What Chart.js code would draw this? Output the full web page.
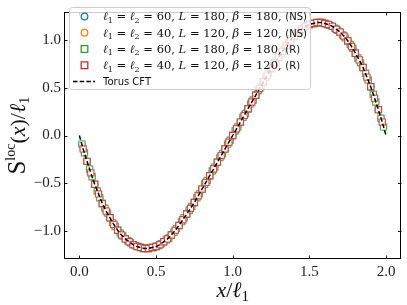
<!DOCTYPE html>
<html><head><meta charset="utf-8">
<script src="https://cdn.jsdelivr.net/npm/chart.js@4.4.0/dist/chart.umd.min.js"></script>
<style>html,body{margin:0;padding:0;background:#fff}</style>
</head><body>
<canvas id="c" width="407" height="305"></canvas>
<script>
const xTicks=[0,0.5,1,1.5,2];
const yTicks=[-1,-0.5,0,0.5,1];

const x60=[0.0167,0.0333,0.05,0.0667,0.0833,0.1,0.1167,0.1333,0.15,0.1667,0.1833,0.2,0.2167,0.2333,0.25,0.2667,0.2833,0.3,0.3167,0.3333,0.35,0.3667,0.3833,0.4,0.4167,0.4333,0.45,0.4667,0.4833,0.5,0.5167,0.5333,0.55,0.5667,0.5833,0.6,0.6167,0.6333,0.65,0.6667,0.6833,0.7,0.7167,0.7333,0.75,0.7667,0.7833,0.8,0.8167,0.8333,0.85,0.8667,0.8833,0.9,0.9167,0.9333,0.95,0.9667,0.9833,1.0,1.0167,1.0333,1.05,1.0667,1.0833,1.1,1.1167,1.1333,1.15,1.1667,1.1833,1.2,1.2167,1.2333,1.25,1.2667,1.2833,1.3,1.3167,1.3333,1.35,1.3667,1.3833,1.4,1.4167,1.4333,1.45,1.4667,1.4833,1.5,1.5167,1.5333,1.55,1.5667,1.5833,1.6,1.6167,1.6333,1.65,1.6667,1.6833,1.7,1.7167,1.7333,1.75,1.7667,1.7833,1.8,1.8167,1.8333,1.85,1.8667,1.8833,1.9,1.9167,1.9333,1.95,1.9667,1.9833];
const y60=[-0.09,-0.18,-0.27,-0.35,-0.43,-0.51,-0.58,-0.65,-0.71,-0.76,-0.81,-0.86,-0.91,-0.95,-0.99,-1.02,-1.05,-1.08,-1.10,-1.12,-1.14,-1.15,-1.16,-1.17,-1.18,-1.18,-1.18,-1.17,-1.17,-1.16,-1.15,-1.13,-1.11,-1.09,-1.07,-1.04,-1.01,-0.97,-0.94,-0.90,-0.86,-0.82,-0.78,-0.74,-0.70,-0.65,-0.61,-0.56,-0.51,-0.47,-0.42,-0.37,-0.33,-0.28,-0.23,-0.19,-0.14,-0.09,-0.05,0.00,0.05,0.09,0.14,0.19,0.23,0.28,0.33,0.37,0.42,0.47,0.51,0.56,0.61,0.65,0.70,0.74,0.78,0.82,0.86,0.90,0.94,0.97,1.01,1.04,1.07,1.09,1.11,1.13,1.15,1.16,1.17,1.17,1.18,1.18,1.18,1.17,1.16,1.15,1.14,1.12,1.10,1.08,1.05,1.02,0.99,0.95,0.91,0.86,0.81,0.76,0.71,0.65,0.58,0.51,0.43,0.35,0.27,0.18,0.09];

const x40=[0.025,0.05,0.075,0.1,0.125,0.15,0.175,0.2,0.225,0.25,0.275,0.3,0.325,0.35,0.375,0.4,0.425,0.45,0.475,0.5,0.525,0.55,0.575,0.6,0.625,0.65,0.675,0.7,0.725,0.75,0.775,0.8,0.825,0.85,0.875,0.9,0.925,0.95,0.975,1,1.025,1.05,1.075,1.1,1.125,1.15,1.175,1.2,1.225,1.25,1.275,1.3,1.325,1.35,1.375,1.4,1.425,1.45,1.475,1.5,1.525,1.55,1.575,1.6,1.625,1.65,1.675,1.7,1.725,1.75,1.775,1.8,1.825,1.85,1.875,1.9,1.925,1.95,1.975];
const y40=[-0.14,-0.27,-0.39,-0.51,-0.61,-0.71,-0.79,-0.86,-0.93,-0.99,-1.04,-1.08,-1.11,-1.14,-1.16,-1.17,-1.18,-1.18,-1.17,-1.16,-1.14,-1.11,-1.08,-1.04,-0.99,-0.94,-0.88,-0.82,-0.76,-0.70,-0.63,-0.56,-0.49,-0.42,-0.35,-0.28,-0.21,-0.14,-0.07,0.00,0.07,0.14,0.21,0.28,0.35,0.42,0.49,0.56,0.63,0.70,0.76,0.82,0.88,0.94,0.99,1.04,1.08,1.11,1.14,1.16,1.17,1.18,1.18,1.17,1.16,1.14,1.11,1.08,1.04,0.99,0.93,0.86,0.79,0.71,0.61,0.51,0.39,0.27,0.14];

const xCFT=[0,0.025,0.05,0.075,0.1,0.125,0.15,0.175,0.2,0.225,0.25,0.275,0.3,0.325,0.35,0.375,0.4,0.425,0.45,0.475,0.5,0.525,0.55,0.575,0.6,0.625,0.65,0.675,0.7,0.725,0.75,0.775,0.8,0.825,0.85,0.875,0.9,0.925,0.95,0.975,1,1.025,1.05,1.075,1.1,1.125,1.15,1.175,1.2,1.225,1.25,1.275,1.3,1.325,1.35,1.375,1.4,1.425,1.45,1.475,1.5,1.525,1.55,1.575,1.6,1.625,1.65,1.675,1.7,1.725,1.75,1.775,1.8,1.825,1.85,1.875,1.9,1.925,1.95,1.975,2];
const yCFT=[0.00,-0.14,-0.27,-0.39,-0.51,-0.61,-0.71,-0.79,-0.86,-0.93,-0.99,-1.04,-1.08,-1.11,-1.14,-1.16,-1.17,-1.18,-1.18,-1.17,-1.16,-1.14,-1.11,-1.08,-1.04,-0.99,-0.94,-0.88,-0.82,-0.76,-0.70,-0.63,-0.56,-0.49,-0.42,-0.35,-0.28,-0.21,-0.14,-0.07,0.00,0.07,0.14,0.21,0.28,0.35,0.42,0.49,0.56,0.63,0.70,0.76,0.82,0.88,0.94,0.99,1.04,1.08,1.11,1.14,1.16,1.17,1.18,1.18,1.17,1.16,1.14,1.11,1.08,1.04,0.99,0.93,0.86,0.79,0.71,0.61,0.51,0.39,0.27,0.14,0.00];

const ells=[60,40,60,40];
const Ls=[180,120,180,120];
const betas=[180,120,180,120];
const kinds=['NS','NS','R','R'];
const cftLabel='Torus CFT';
const colors=['#1f77b4','#ff7f0e','#2ca02c','#d62728'];
const alphaCol=['rgba(31,119,180,0.85)','rgba(255,127,14,0.85)','rgba(44,160,44,0.8)','rgba(214,39,40,0.8)'];

const pts=(xs,ys)=>xs.map((x,i)=>({x:x,y:ys[i]}));
const lab=i=>'ℓ₁ = ℓ₂ = '+ells[i]+', L = '+Ls[i]+', β = '+betas[i]+', ('+kinds[i]+')';
const fmt=v=>(v<0?'\u2212':'')+Math.abs(v).toFixed(1);

const SERIF='"Liberation Serif", "DejaVu Serif", serif';
const LSERIF='"DejaVu Serif", serif';
const SANS='"DejaVu Sans", sans-serif';

function drawRich(ctx,x,y,pieces){
  let cx=x;
  for(const p of pieces){ctx.font=p[1];ctx.fillText(p[0],cx,y+(p[2]||0));cx+=ctx.measureText(p[0]).width;}
  return cx;
}
function richWidth(ctx,pieces){let w=0;for(const p of pieces){ctx.font=p[1];w+=ctx.measureText(p[0]).width;}return w;}

const framePlugin={
  id:'frame',
  afterDatasetsDraw(chart){
    const {ctx,chartArea:a,scales:{x,y}}=chart;
    ctx.save();
    ctx.strokeStyle='#000';ctx.lineWidth=1;
    ctx.strokeRect(Math.round(a.left)+0.5,Math.round(a.top)+0.5,Math.round(a.right-a.left)-1,Math.round(a.bottom-a.top)-1);
    ctx.lineWidth=0.9;
    const tl=3.5;
    ctx.beginPath();
    for(const v of xTicks){const px=Math.round(x.getPixelForValue(v))+0.5;
      ctx.moveTo(px,a.bottom);ctx.lineTo(px,a.bottom-tl);
      ctx.moveTo(px,a.top);ctx.lineTo(px,a.top+tl);}
    for(const v of yTicks){const py=Math.round(y.getPixelForValue(v))+0.5;
      ctx.moveTo(a.left,py);ctx.lineTo(a.left+tl,py);
      ctx.moveTo(a.right,py);ctx.lineTo(a.right-tl,py);}
    ctx.stroke();
    ctx.restore();
  },
  afterDraw(chart){
    const {ctx,chartArea:a}=chart;
    ctx.save();
    ctx.fillStyle='#111';ctx.textBaseline='alphabetic';
    // x title
    const xt=[['x','italic 22px '+SERIF,0],['/','22px '+SERIF,0],['ℓ','italic 22px '+SERIF,0],['1','15px '+SERIF,4]];
    const xw=richWidth(ctx,xt);
    drawRich(ctx,(a.left+a.right)/2-xw/2,297,xt);
    // y title
    const yt=[['S','25px '+SERIF,0],['loc','14px '+SERIF,-10],['(','22px '+SERIF,0],['x','italic 22px '+SERIF,0],[')/','22px '+SERIF,0],['ℓ','italic 22px '+SERIF,0],['1','15px '+SERIF,4]];
    const yw=richWidth(ctx,yt);
    ctx.save();ctx.translate(25,(a.top+a.bottom)/2);ctx.rotate(-Math.PI/2);
    drawRich(ctx,-yw/2,0,yt);ctx.restore();
    // legend rows
    const f='11.5px '+LSERIF,fi='italic 11.5px '+LSERIF,fs='8px '+LSERIF;
    const rows=[0,1,2,3].map(i=>[['ℓ',fi,0],['1',fs,2.5],[' = ',f,0],['ℓ',fi,0],['2',fs,2.5],[' = '+ells[i]+', ',f,0],['L',fi,0],[' = '+Ls[i]+', ',f,0],['β',fi,0],[' = '+betas[i]+', ',f,0],['('+kinds[i]+')','10px '+SANS,0]]);
    let maxW=0;for(const r of rows){maxW=Math.max(maxW,richWidth(ctx,r));}
    const tx=103;
    const bx=69.5,by=7.5,bw=Math.round(tx+maxW+4-bx),bh=82,r=3;
    ctx.beginPath();
    ctx.moveTo(bx+r,by);ctx.lineTo(bx+bw-r,by);ctx.arcTo(bx+bw,by,bx+bw,by+r,r);
    ctx.lineTo(bx+bw,by+bh-r);ctx.arcTo(bx+bw,by+bh,bx+bw-r,by+bh,r);
    ctx.lineTo(bx+r,by+bh);ctx.arcTo(bx,by+bh,bx,by+bh-r,r);
    ctx.lineTo(bx,by+r);ctx.arcTo(bx,by,bx+r,by,r);ctx.closePath();
    ctx.fillStyle='rgba(255,255,255,0.8)';ctx.fill();
    ctx.strokeStyle='#cccccc';ctx.lineWidth=1;ctx.stroke();
    const rowY=i=>16.5+i*16.25;
    for(let i=0;i<4;i++){
      const cy=rowY(i);
      ctx.strokeStyle=colors[i];ctx.lineWidth=1.3;
      ctx.beginPath();
      if(i<2){ctx.arc(84.5,cy,3.3,0,Math.PI*2);}
      else{ctx.rect(81.2,cy-3.3,6.6,6.6);}
      ctx.stroke();
      ctx.fillStyle='#111';
      drawRich(ctx,tx,cy+3.8,rows[i]);
    }
    const cy=rowY(4);
    ctx.strokeStyle='#000';ctx.lineWidth=1.5;ctx.setLineDash([4.5,2.2]);
    ctx.beginPath();ctx.moveTo(73,cy);ctx.lineTo(95,cy);ctx.stroke();ctx.setLineDash([]);
    ctx.fillStyle='#111';ctx.font='10px '+SANS;ctx.fillText(cftLabel,tx,cy+3.6);
    ctx.restore();
  }
};

const mk=(i,xs,ys,style,rad,ord)=>({label:lab(i),data:pts(xs,ys),pointStyle:style,pointRadius:rad,pointHoverRadius:rad,
  borderColor:alphaCol[i],backgroundColor:'#ffffff',pointBorderWidth:1.2,showLine:false,order:ord});

new Chart(document.getElementById('c'),{
  type:'scatter',
  data:{datasets:[
    mk(0,x60,y60,'circle',3,4),
    mk(1,x40,y40,'circle',3,3),
    mk(2,x60,y60,'rect',4.4,2),
    mk(3,x40,y40,'rect',4.4,1),
    {type:'line',label:cftLabel,data:pts(xCFT,yCFT),borderColor:'#000',borderWidth:1.5,borderDash:[4.5,2.2],pointRadius:0,fill:false,showLine:true,tension:0,order:0}
  ]},
  options:{
    responsive:false,devicePixelRatio:1,animation:false,
    layout:{padding:{left:0,top:3,right:3,bottom:0}},
    plugins:{legend:{display:false},tooltip:{enabled:false}},
    scales:{
      x:{type:'linear',min:-0.1,max:2.1,
        grid:{display:false,drawTicks:false},border:{display:false},
        ticks:{font:{family:SERIF,size:15},color:'#222',padding:4,callback:fmt},
        afterBuildTicks:s=>{s.ticks=xTicks.map(v=>({value:v}));},
        afterFit:s=>{s.height=46;}},
      y:{type:'linear',min:-1.29,max:1.29,
        grid:{display:false,drawTicks:false},border:{display:false},
        ticks:{font:{family:SERIF,size:15},color:'#222',padding:3,callback:fmt},
        afterBuildTicks:s=>{s.ticks=yTicks.map(v=>({value:v}));},
        afterFit:s=>{s.width=64;}}
    }
  },
  plugins:[framePlugin]
});
</script>
</body></html>
